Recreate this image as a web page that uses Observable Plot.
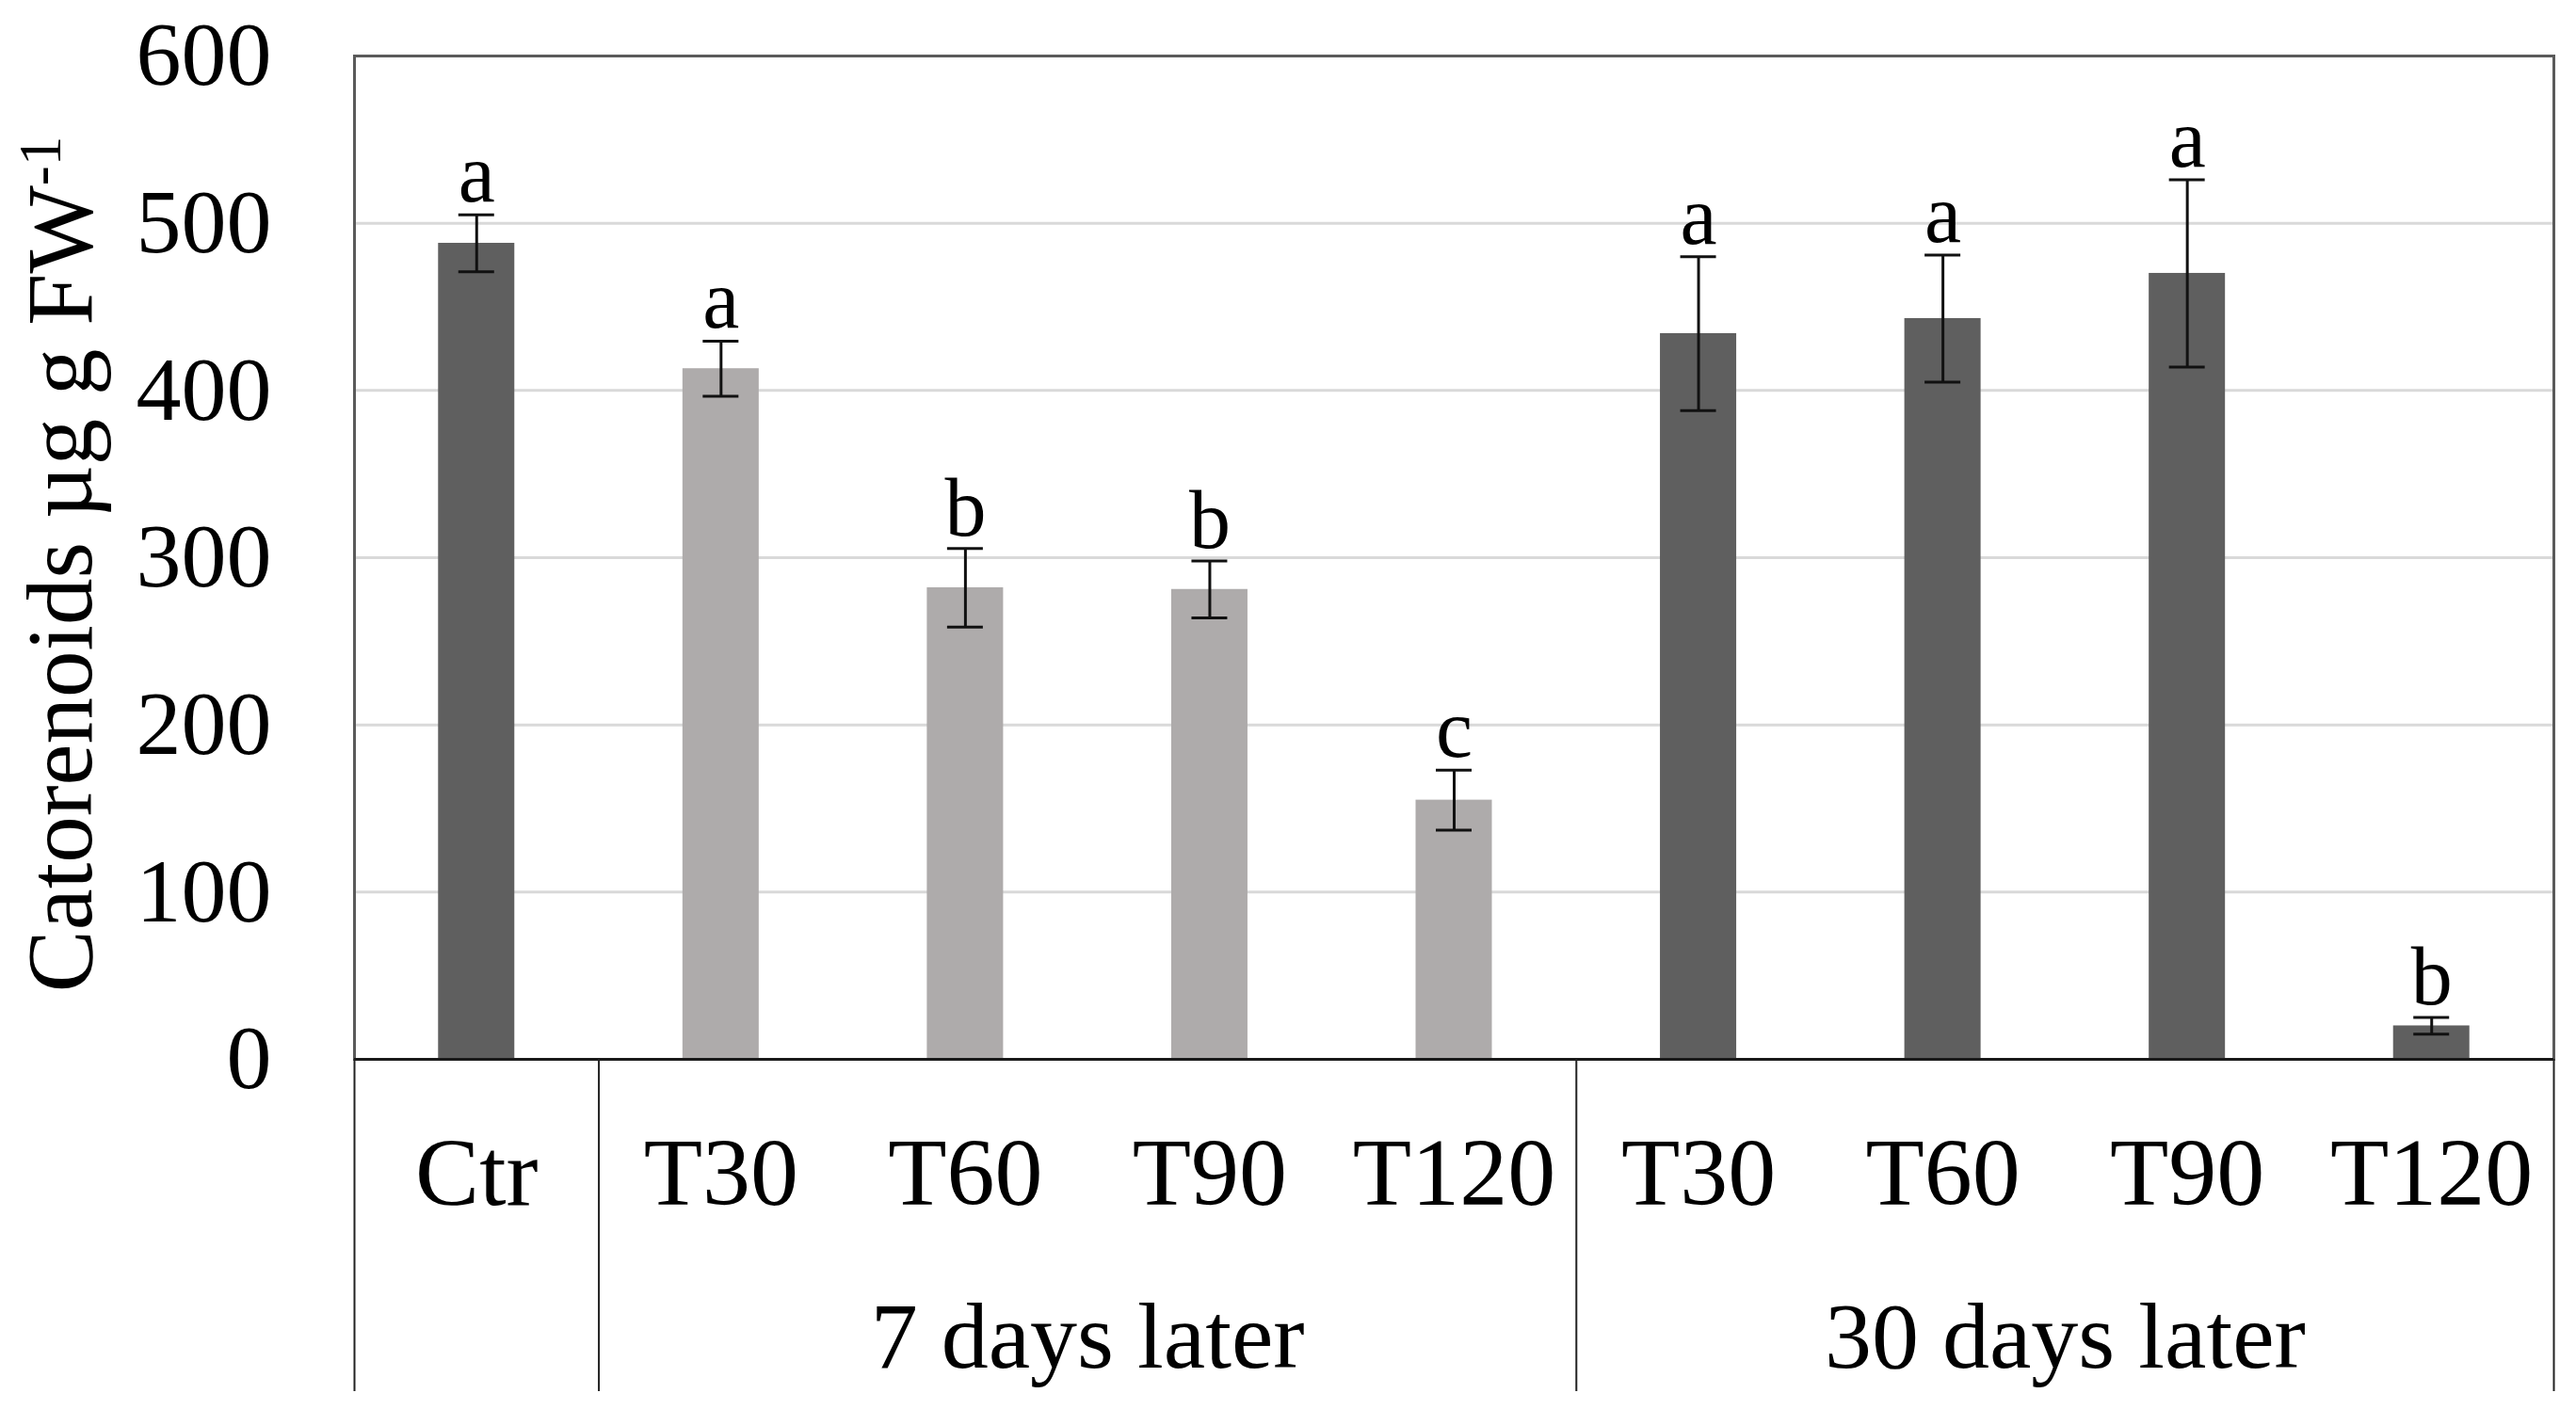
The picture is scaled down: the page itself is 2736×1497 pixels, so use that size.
<!DOCTYPE html>
<html><head><meta charset="utf-8">
<script src="https://cdn.jsdelivr.net/npm/d3@7"></script>
<script src="https://cdn.jsdelivr.net/npm/@observablehq/plot@0.6"></script>
<style>html,body{margin:0;padding:0;background:#fff;overflow:hidden;}</style>
</head><body><div id="chart"></div>
<script>
// ---- data ----
const ids = ["Ctr","T30_7","T60_7","T90_7","T120_7","T30_30","T60_30","T90_30","T120_30"];
const tickLabels = ["Ctr","T30","T60","T90","T120","T30","T60","T90","T120"];
const groups = ["control","7 days","7 days","7 days","7 days","30 days","30 days","30 days","30 days"];
const values = [488, 413, 282, 281, 155, 434, 443, 470, 20];
const errors = [17, 16.5, 23.5, 17, 18, 46, 38, 56, 5];
const letters = ["a","a","b","b","c","a","a","a","b"];
const groupNames = ["7 days later", "30 days later"];
const groupAnchors = ["T60_7", "T60_30"];         // label centred after this category
const leftEdges = ["Ctr", "T30_7", "T30_30"];      // separators at the left of these categories
const rightEdges = ["T120_30"];
const yTicks = [0, 100, 200, 300, 400, 500, 600];
const yTitle = "Catorenoids µg g FW";
const yTitleSup = "-1";

const data = ids.map((id, i) => ({id, label: tickLabels[i], group: groups[i], v: values[i], e: errors[i], letter: letters[i]}));
const groupData = groupNames.map((name, i) => ({name, anchor: groupAnchors[i]}));
const labelOf = Object.fromEntries(ids.map((id, i) => [id, tickLabels[i]]));

const W = 2736, H = 1497, ML = 376, MR = 24, MT = 59, MB = 372;
const step = (W - ML - MR) / ids.length;
const barW = 81, capW = 38;
const font = "'Liberation Serif', 'Times New Roman', serif";

const chart = Plot.plot({
  width: W, height: H,
  marginLeft: ML, marginRight: MR, marginTop: MT, marginBottom: MB,
  style: {fontFamily: font, background: "#fff", color: "#000", overflow: "visible"},
  x: {domain: ids, padding: 0, round: false, label: null},
  y: {domain: [0, 600], label: null},
  color: {domain: ["control", "7 days", "30 days"], range: ["#5f5f5f", "#aeabab", "#5f5f5f"]},
  marks: [
    Plot.gridY({ticks: yTicks.filter(t => t > 0 && t < 600), stroke: "#d9d9d9", strokeOpacity: 1, strokeWidth: 3}),
    Plot.barY(data, {x: "id", y: "v", fill: "group", insetLeft: (step - barW) / 2, insetRight: (step - barW) / 2}),
    Plot.ruleX(data, {x: "id", y1: d => d.v - d.e, y2: d => d.v + d.e, stroke: "#111", strokeWidth: 3}),
    Plot.tickY(data, {x: "id", y: d => d.v + d.e, stroke: "#111", strokeWidth: 3, insetLeft: (step - capW) / 2, insetRight: (step - capW) / 2}),
    Plot.tickY(data, {x: "id", y: d => d.v - d.e, stroke: "#111", strokeWidth: 3, insetLeft: (step - capW) / 2, insetRight: (step - capW) / 2}),
    Plot.text(data, {x: "id", y: d => d.v + d.e, text: "letter", lineAnchor: "bottom", dy: -14, fontSize: 88, fill: "#000"}),
    Plot.frame({stroke: "#5a5a5a", strokeWidth: 3}),
    Plot.ruleY([0], {stroke: "#1a1a1a", strokeWidth: 3}),
    Plot.ruleX(leftEdges, {x: d => d, y1: 0, y2: 0, dx: -step / 2, insetBottom: -353, stroke: "#222", strokeWidth: 2}),
    Plot.ruleX(rightEdges, {x: d => d, y1: 0, y2: 0, dx: step / 2, insetBottom: -353, stroke: "#222", strokeWidth: 2}),
    Plot.axisX({tickSize: 0, tickPadding: 82, fontSize: 102, tickFormat: d => labelOf[d], label: null}),
    Plot.axisY({ticks: yTicks, tickSize: 0, tickPadding: 88, fontSize: 96, label: null}),
    Plot.text(groupData, {x: "anchor", text: "name", frameAnchor: "bottom", dx: step / 2, dy: 327, lineAnchor: "bottom", fontSize: 100, fill: "#000"}),
    Plot.text([yTitle + yTitleSup], {frameAnchor: "left", rotate: -90, dx: -280, dy: 7, lineAnchor: "bottom", textAnchor: "middle", fontSize: 99, fill: "#000"})
  ]
});

// superscript for the unit
chart.querySelectorAll("text").forEach(t => {
  if (t.textContent === yTitle + yTitleSup) {
    t.textContent = yTitle;
    const ts = document.createElementNS("http://www.w3.org/2000/svg", "tspan");
    ts.setAttribute("dy", "-33");
    ts.setAttribute("font-size", "63");
    ts.textContent = yTitleSup;
    t.appendChild(ts);
  }
});
document.getElementById("chart").appendChild(chart);
</script>
</body></html>
